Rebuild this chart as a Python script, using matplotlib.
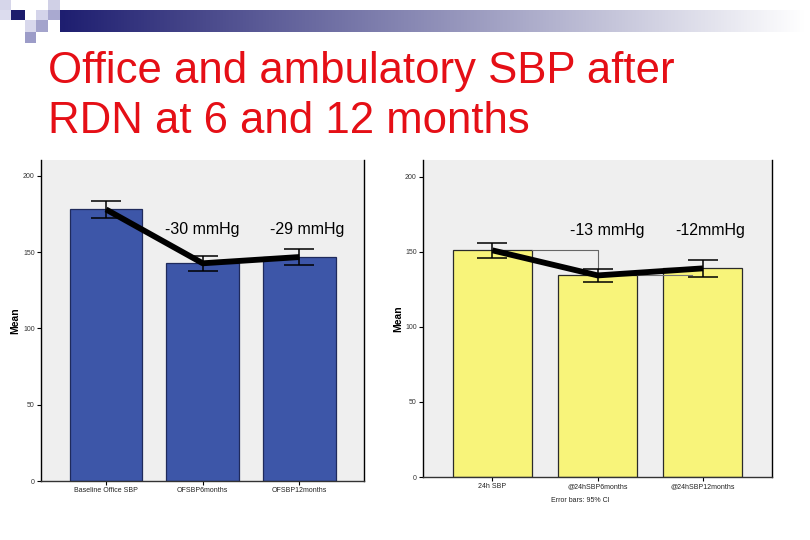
import numpy as np
import matplotlib
matplotlib.use("Agg")
import matplotlib.pyplot as plt
from matplotlib.patches import Rectangle

# ---- data ----
title_lines = ["Office and ambulatory SBP after", "RDN at 6 and 12 months"]

office_labels = ["Baseline Office SBP", "OFSBP6months", "OFSBP12months"]
office_means = [178.0, 142.7, 146.8]
office_ci_low = [172.5, 137.6, 141.5]
office_ci_high = [183.7, 147.2, 152.2]
office_changes = ["-30 mmHg", "-29 mmHg"]

amb_labels = ["24h SBP", "@24hSBP6months", "@24hSBP12months"]
amb_means = [151.0, 134.3, 139.0]
amb_ci_low = [146.0, 129.6, 133.3]
amb_ci_high = [156.0, 138.3, 144.3]
amb_changes = ["-13 mmHg", "-12mmHg"]

y_ticks = [0, 50, 100, 150, 200]
error_note = "Error bars: 95% CI"

plt.rcParams['font.family'] = ['Liberation Sans', 'DejaVu Sans']

W, H = 810, 540
fig = plt.figure(figsize=(W / 100, H / 100), dpi=100)
fig.patch.set_facecolor('white')

def px(x, y, w, h):
    """pixel box (top-left origin) -> figure fraction rect"""
    return [x / W, 1 - (y + h) / H, w / W, h / H]

# ---- header decoration ----
grad_ax = fig.add_axes(px(60, 10, 745, 22))
grad = np.linspace(0, 1, 256)[None, :]
c0 = np.array([0x1e, 0x1e, 0x70]) / 255
c1 = np.array([1.0, 1.0, 1.0])
img = c0[None, None, :] * (1 - grad[..., None]) + c1[None, None, :] * grad[..., None]
grad_ax.imshow(img, aspect='auto', extent=[0, 1, 0, 1])
grad_ax.axis('off')

squares = [
    (0, 0, 11, 10, '#d6d6ea'),
    (0, 10, 11, 10, '#dcdcee'),
    (11, 10, 14, 10, '#1c1c6c'),
    (36, 10, 12, 10, '#d4d4ea'),
    (48, 0, 12, 10, '#d0d0e6'),
    (48, 10, 12, 10, '#a9a9d0'),
    (25, 20, 11, 12, '#d8d8ec'),
    (36, 20, 12, 12, '#a4a4cc'),
    (25, 32, 11, 11, '#9c9cc8'),
]
for (x, y, w, h, c) in squares:
    fig.patches.append(Rectangle((x / W, 1 - (y + h) / H), w / W, h / H,
                                 transform=fig.transFigure, facecolor=c,
                                 edgecolor='none', zorder=5))

# ---- title ----
for line, base in zip(title_lines, [83, 133]):
    fig.text(48 / W, 1 - base / H, line, color='#e50f16', fontsize=31.5,
             ha='left', va='baseline')

BG = '#efefef'

def draw_panel(rect, labels, means, lo, hi, changes, color, edge, xlim, ylim,
               ann_x, ann_y, ylab_x, ref_lines=False):
    ax = fig.add_axes(rect)
    ax.set_facecolor(BG)
    x = np.arange(len(labels))
    ax.bar(x, means, width=0.75, color=color, edgecolor=edge, linewidth=0.9,
           zorder=2)
    means_a = np.array(means)
    yerr = np.vstack([means_a - np.array(lo), np.array(hi) - means_a])
    ax.errorbar(x, means, yerr=yerr, fmt='none', ecolor='black',
                elinewidth=1.1, capsize=11, capthick=1.1, zorder=3)
    if ref_lines:
        ax.plot([0 + 0.375, 1, 1], [means[0], means[0], hi[1]],
                color='#666666', lw=0.8, zorder=2.5)
        ax.plot([1 + 0.375, 2 - 0.1], [means[1], means[1]],
                color='#777777', lw=0.8, zorder=2.5)
    ax.plot(x, means, color='black', lw=4.2, solid_capstyle='butt',
            solid_joinstyle='round', zorder=4)
    for xi, t in zip(ann_x, changes):
        ax.text(xi, ann_y, t, fontsize=11.5, ha='center', va='center',
                color='black', zorder=5)
    ax.set_xlim(*xlim)
    ax.set_ylim(*ylim)
    ax.set_xticks(x)
    ax.set_xticklabels(labels, fontsize=5, color='#222222')
    ax.set_yticks(y_ticks)
    ax.set_yticklabels([str(v) for v in y_ticks], fontsize=5, color='#333333')
    ax.tick_params(axis='both', direction='out', length=3, width=0.8,
                   pad=1.5)
    ax.spines['top'].set_visible(False)
    ax.spines['left'].set_color('black')
    ax.spines['bottom'].set_color('#333333')
    ax.spines['right'].set_color('black')
    for s in ['left', 'bottom', 'right']:
        ax.spines[s].set_linewidth(1.0)
    ax.set_ylabel('Mean', fontsize=7.5, fontweight='bold')
    ax.yaxis.set_label_coords(ylab_x, 0.5)
    return ax

draw_panel(px(41, 160, 323, 321), office_labels, office_means, office_ci_low,
           office_ci_high, office_changes, '#3d56a8', '#1f2a5c',
           (-0.672, 2.667), (0, 210.4), [0.99, 2.08], 165, -0.064)

draw_panel(px(423, 160, 349, 317), amb_labels, amb_means, amb_ci_low,
           amb_ci_high, amb_changes, '#f8f47a', '#2a2a2a',
           (-0.66, 2.656), (0, 211.2), [1.09, 2.07], 164.5, -0.058,
           ref_lines=True)

fig.text(580 / W, 1 - 500 / H, error_note, fontsize=5, color='#222222',
         ha='center', va='center')

fig.savefig('out.png', dpi=100, facecolor='white')
